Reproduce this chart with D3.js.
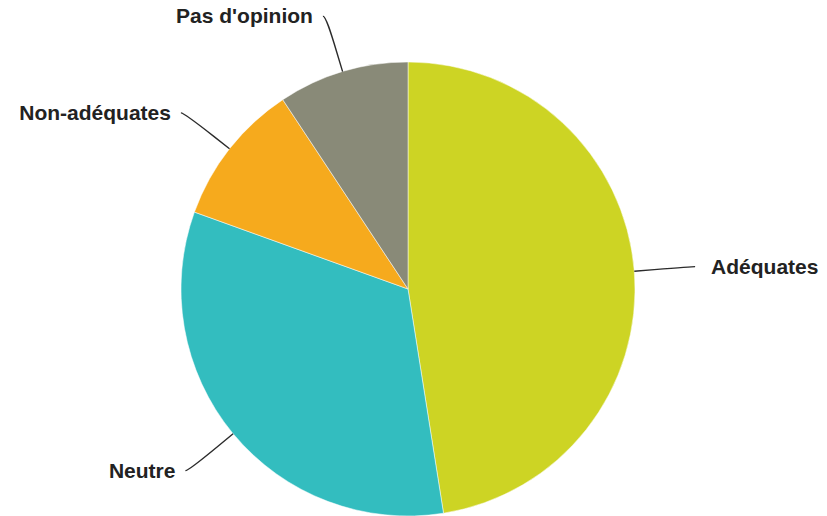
<!DOCTYPE html>
<html>
<head>
<meta charset="utf-8">
<script src="https://cdn.jsdelivr.net/npm/d3@7"></script>
<style>
  html, body { margin: 0; padding: 0; background: #fff; }
  svg text { font-family: "Liberation Sans", Arial, sans-serif; font-weight: bold; }
</style>
</head>
<body>
<svg id="chart" width="827" height="516"></svg>
<script>
// data (share in %)
var categories = ["Adéquates", "Neutre", "Non-adéquates", "Pas d'opinion"];
var shares = [47.5, 33.0, 10.2, 9.3];
var colors = ["#cdd424", "#33bdbf", "#f6aa1d", "#898a78"];

var width = 827, height = 516;
var cx = 408, cy = 289, radius = 227;

var svg = d3.select("#chart");
var g = svg.append("g").attr("transform", "translate(" + cx + "," + cy + ")");

var slices = categories.map(function(c, i) { return { name: c, value: shares[i], color: colors[i] }; });

var pie = d3.pie()
  .sort(null)
  .value(function(d) { return d.value; });

var arc = d3.arc().innerRadius(0).outerRadius(radius);

var arcs = pie(slices);

g.selectAll("path.slice")
  .data(arcs)
  .enter()
  .append("path")
  .attr("class", "slice")
  .attr("d", arc)
  .attr("fill", function(d) { return d.data.color; })
  .attr("stroke", "#fff")
  .attr("stroke-width", 0.5);

// point on a circle of radius r at the slice's middle angle
function polar(d, r) {
  var a = (d.startAngle + d.endAngle) / 2;
  return [r * Math.sin(a), -r * Math.cos(a)];
}

//===== connectors (soft curve) + labels
arcs.forEach(function(d) {
  var e = polar(d, radius);        // edge of the pie
  var b = polar(d, radius + 20);   // break point
  var l = polar(d, radius + 58);   // label point
  var right = l[0] > 0;
  var path = "M" + (l[0] + (right ? 3 : -3)) + "," + l[1] +
             " C" + l[0] + "," + l[1] + " " + (2 * b[0] - e[0]) + "," + (2 * b[1] - e[1]) + " " + b[0] + "," + b[1] +
             " L" + e[0] + "," + e[1];

  g.append("path")
    .attr("d", path)
    .attr("fill", "none")
    .attr("stroke", "#2b2b2b")
    .attr("stroke-width", 1.4);

  g.append("text")
    .attr("x", l[0] + (right ? 19 : -13))
    .attr("y", l[1])
    .attr("dy", "0.35em")
    .attr("text-anchor", right ? "start" : "end")
    .attr("font-size", "21px")
    .attr("fill", "#222")
    .text(d.data.name);
});
</script>
</body>
</html>
